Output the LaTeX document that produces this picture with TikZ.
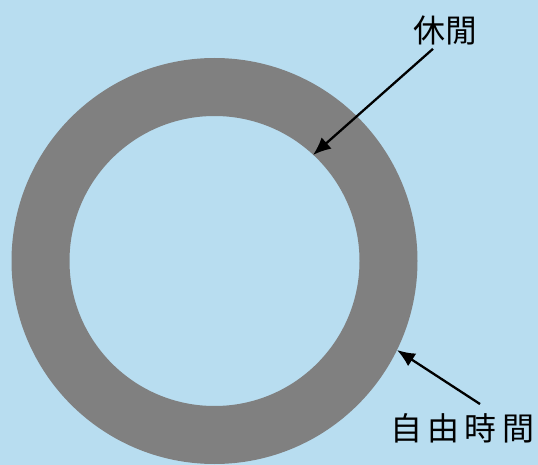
\documentclass[tikz,border=0pt]{standalone}
\usepackage{fontspec}
\newfontfamily\cjk{Noto Sans CJK TC}
\usepackage{tikz}
\usetikzlibrary{arrows.meta}
\definecolor{ringSky}{HTML}{B8DDF0}
\definecolor{ringGray}{HTML}{808080}

\begin{document}
\begin{tikzpicture}[x=1pt,y=-1pt,
  lbl/.style={font=\cjk\fontsize{32}{32}\selectfont,inner sep=0pt},
  pointer/.style={line width=2.3pt,-{Latex[length=18pt,width=15pt]}}]
\fill[ringSky] (0,0) rectangle (538,465);
\useasboundingbox (0,0) rectangle (538,465);
\fill[ringGray,even odd rule] (214.5,261) circle (203) (214.5,261) circle (145);
\node[lbl] (leisure) at (445,30){休閒};
\node[lbl] (freetime) at (462,428){自\,由\,時\,間};
\coordinate (leisureTip) at (313,155);
\coordinate (freeTip) at (397,350);
\draw[pointer] ([shift={(-12,4)}]leisure.south) -- (leisureTip);
\draw[pointer] ([shift={(18,-9)}]freetime.north) -- (freeTip);
\end{tikzpicture}
\end{document}
